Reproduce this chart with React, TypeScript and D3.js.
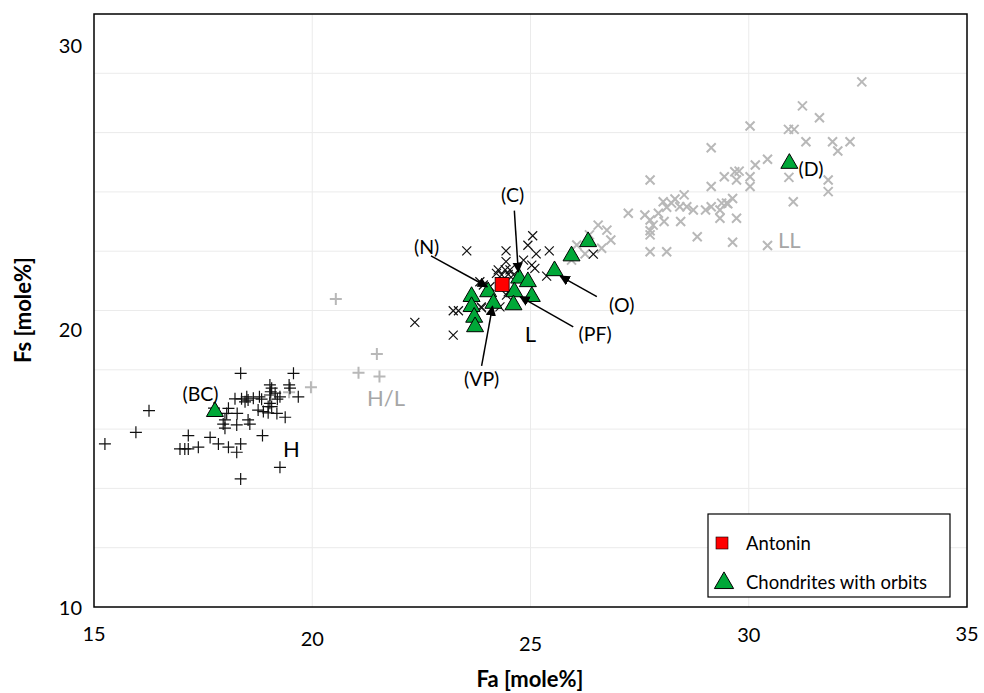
import * as d3 from 'd3';
import React from 'react';

// Fa / Fs [mole%]
const hGroup: [number, number][] = [
  [18.36, 17.88], [19.57, 17.88], [16.26, 16.62], [15.96, 15.89], [15.25, 15.5],
  [17.16, 15.78], [16.97, 15.33], [17.08, 15.33], [17.16, 15.33], [17.39, 15.39],
  [17.66, 15.72], [17.85, 15.5], [18.08, 15.39], [18.36, 15.5], [18.27, 15.22],
  [18.86, 15.78], [18.36, 14.32], [19.26, 14.71], [19.03, 17.49], [19.07, 17.38],
  [19.05, 17.26], [19.03, 17.15], [19.15, 17.21], [19.47, 17.49], [19.49, 17.38],
  [19.68, 17.09], [19.26, 17.09], [19.2, 17.01], [18.23, 17.02], [18.38, 17.02],
  [18.5, 17.09], [18.53, 16.98], [18.46, 16.92], [18.65, 17.04], [18.79, 17.09],
  [18.84, 17.01], [19.03, 16.87], [18.99, 16.76], [19.07, 16.76], [18.08, 16.7],
  [18.28, 16.53], [18.76, 16.64], [18.88, 16.59], [18.99, 16.55], [19.19, 16.53],
  [19.38, 16.4], [18.04, 16.53], [18.0, 16.31], [17.96, 16.17], [18.0, 16.03],
  [18.27, 16.14], [18.53, 16.31], [18.57, 16.17], [17.75, 16.71],
];

const hlGroup: [number, number][] = [
  [20.54, 20.39], [21.48, 18.53], [21.06, 17.9], [21.54, 17.77], [19.97, 17.41], [19.47, 17.24],
];

const lGroup: [number, number][] = [
  [22.35, 19.6], [23.23, 19.99], [23.35, 19.99], [23.23, 19.17], [23.88, 20.09],
  [23.54, 22.01], [24.44, 22.01], [25.05, 22.52], [24.94, 22.2], [25.13, 21.91],
  [25.43, 22.01], [24.44, 21.65], [24.84, 21.7], [25.03, 21.53], [25.1, 21.42],
  [25.37, 21.16], [26.44, 21.9], [23.84, 20.97], [23.92, 20.86], [23.87, 20.12],
  [24.3, 20.12], [24.45, 20.52], [24.26, 21.37], [24.42, 21.37], [24.53, 21.37],
  [24.34, 21.2], [24.49, 21.22], [24.22, 21.25], [24.61, 21.2], [24.07, 20.8],
  [24.49, 20.63],
];

const llGroup: [number, number][] = [
  [32.59, 27.71], [31.23, 26.9], [31.62, 26.5], [30.03, 26.22], [30.91, 26.11],
  [31.04, 26.11], [31.31, 25.69], [31.92, 25.69], [32.32, 25.69], [32.04, 25.38],
  [29.14, 25.49], [30.43, 25.1], [30.15, 24.91], [29.78, 24.7], [29.68, 24.68],
  [29.44, 24.51], [30.03, 24.51], [29.72, 24.4], [30.92, 24.49], [31.82, 24.4],
  [31.82, 24.01], [27.74, 24.4], [29.14, 24.18], [30.03, 24.18], [31.02, 23.67],
  [29.63, 23.78], [29.38, 23.62], [29.49, 23.62], [29.52, 23.6], [29.34, 23.39],
  [29.14, 23.5], [29.01, 23.39], [28.73, 23.39], [28.52, 23.9], [28.31, 23.76],
  [28.23, 23.62], [28.12, 23.48], [28.04, 23.67], [28.42, 23.5], [28.58, 23.5],
  [27.93, 23.28], [27.62, 23.22], [27.74, 23.05], [27.81, 22.88], [27.74, 22.69],
  [27.74, 22.55], [28.06, 23.0], [28.44, 23.0], [29.34, 23.11], [29.72, 23.11],
  [27.24, 23.28], [26.55, 22.88], [26.75, 22.71], [26.84, 22.38], [28.82, 22.49],
  [29.63, 22.3], [30.43, 22.19], [27.74, 21.98], [28.12, 21.98], [26.06, 22.21],
  [26.25, 21.91], [26.63, 22.1], [25.94, 21.7], [26.35, 22.55],
];

const orbits: [number, number][] = [
  [17.77, 16.59], [23.65, 20.47], [23.65, 20.13], [23.71, 19.77], [23.73, 19.45],
  [24.03, 20.63], [24.15, 20.24], [24.74, 21.09], [24.94, 20.97], [24.63, 20.63],
  [25.03, 20.47], [24.61, 20.19], [25.55, 21.34], [25.94, 21.84], [26.32, 22.32],
  [30.93, 24.96],
];

const antonin: [number, number] = [24.35, 20.88];

// label text, label position, arrow start, arrow end
const pointers = [
  { text: '(C)', at: [24.59, 23.9], from: [24.63, 23.37], to: [24.72, 21.3] },
  { text: '(N)', at: [22.62, 22.15], from: [22.72, 21.84], to: [24.01, 20.8] },
  { text: '(O)', at: [27.09, 20.19], from: [26.52, 20.47], to: [25.68, 21.16] },
  { text: '(PF)', at: [26.48, 19.23], from: [25.98, 19.45], to: [24.76, 20.47] },
  { text: '(VP)', at: [23.88, 17.71], from: [23.88, 18.13], to: [24.13, 20.14] },
];
const plainLabels = [
  { text: '(BC)', at: [17.44, 17.21], anchor: 'middle' },
  { text: '(D)', at: [31.14, 24.8], anchor: 'start' },
];
const groupLabels = [
  { text: 'H', at: [19.52, 15.33], gray: false },
  { text: 'L', at: [25.0, 19.23], gray: false },
  { text: 'H/L', at: [21.69, 17.08], gray: true },
  { text: 'LL', at: [30.93, 22.38], gray: true },
];

const xTicks = [15, 20, 25, 30, 35];
const yTicks = [10, 20, 30];

const W = 984;
const H = 693;
const m = { left: 94, right: 17, top: 14, bottom: 86 };
const font = 'Lato, "Open Sans", sans-serif';
const grayMark = '#b8b8b8';

export default function App() {
  const x = d3.scaleLinear().domain([15, 35]).range([m.left, W - m.right]);
  const y = d3.scaleLinear().domain([10, 30]).range([H - m.bottom, m.top]);
  const tri = d3.symbol().type(d3.symbolTriangle).size(125)();
  const triLegend = d3.symbol().type(d3.symbolTriangle).size(160)();
  const xNudge: Record<number, number> = { 15: 0, 20: 5, 25: 10, 30: 1, 35: 0 };
  const yNudge: Record<number, number> = { 10: 0, 20: 18, 30: 31 };

  const plus = 'M-6,0H6M0,-6V6';
  const cross = 'M-4.5,-4.5L4.5,4.5M4.5,-4.5L-4.5,4.5';

  return (
    <svg width={W} height={H} style={{ position: 'absolute', left: 0, top: 0, background: '#fff' }} fontFamily={font}>
      <defs>
        <marker id="ah" viewBox="0 0 10 10" refX="9" refY="5" markerWidth="7" markerHeight="7" orient="auto">
          <path d="M0,0L10,5L0,10z" fill="#000" />
        </marker>
      </defs>
      {/* grid */}
      {d3.range(12, 30, 2).map(v => (
        <line key={'gy' + v} x1={m.left} x2={W - m.right} y1={y(v)} y2={y(v)} stroke="#ebebeb" />
      ))}
      {[20, 25, 30].map(v => (
        <line key={'gx' + v} x1={x(v)} x2={x(v)} y1={m.top} y2={H - m.bottom} stroke="#ebebeb" />
      ))}

      {/* groups */}
      {hlGroup.map((d, i) => (
        <path key={'hl' + i} d={plus} transform={`translate(${x(d[0])},${y(d[1])})`} stroke={grayMark} strokeWidth={2} />
      ))}
      {llGroup.map((d, i) => (
        <path key={'ll' + i} d={cross} transform={`translate(${x(d[0])},${y(d[1])})`} stroke={grayMark} strokeWidth={2} />
      ))}
      {hGroup.map((d, i) => (
        <path key={'h' + i} d={plus} transform={`translate(${x(d[0])},${y(d[1])})`} stroke="#111" strokeWidth={1.2} />
      ))}
      {lGroup.map((d, i) => (
        <path key={'l' + i} d={cross} transform={`translate(${x(d[0])},${y(d[1])})`} stroke="#111" strokeWidth={1.2} />
      ))}
      {orbits.map((d, i) => (
        <path key={'o' + i} d={tri} transform={`translate(${x(d[0])},${y(d[1])})`} fill="#00a838" stroke="#000" strokeWidth={1} />
      ))}
      <rect x={x(antonin[0]) - 7} y={y(antonin[1]) - 7} width={14} height={14} fill="#ff0000" stroke="#000" strokeWidth={0.8} />

      {/* annotations */}
      {pointers.map(p => (
        <g key={p.text}>
          <line x1={x(p.from[0])} y1={y(p.from[1])} x2={x(p.to[0])} y2={y(p.to[1])} stroke="#000" strokeWidth={1.5} markerEnd="url(#ah)" />
          <text x={x(p.at[0])} y={y(p.at[1])} textAnchor="middle" dominantBaseline="central" fontSize={19.5}>{p.text}</text>
        </g>
      ))}
      {plainLabels.map(p => (
        <text key={p.text} x={x(p.at[0])} y={y(p.at[1])} textAnchor={p.anchor} dominantBaseline="central" fontSize={19.5}>{p.text}</text>
      ))}
      {groupLabels.map(p => (
        <text key={p.text} x={x(p.at[0])} y={y(p.at[1])} textAnchor="middle" dominantBaseline="central" fontSize={22} fill={p.gray ? '#a6a6a6' : '#000'}>{p.text}</text>
      ))}

      {/* frame */}
      <rect x={m.left} y={m.top} width={W - m.left - m.right} height={H - m.top - m.bottom} fill="none" stroke="#000" strokeWidth={1.5} />

      {/* ticks */}
      {xTicks.map(v => (
        <text key={'xt' + v} x={x(v)} y={H - m.bottom + 26 + xNudge[v]} textAnchor="middle" dominantBaseline="central" fontSize={20}>{v}</text>
      ))}
      {yTicks.map(v => (
        <text key={'yt' + v} x={m.left - 12} y={y(v) + yNudge[v]} textAnchor="end" dominantBaseline="central" fontSize={20}>{v}</text>
      ))}
      <text x={530} y={687} textAnchor="middle" fontSize={22} fontWeight="bold">Fa [mole%]</text>
      <text transform="translate(22,310) rotate(-90)" textAnchor="middle" dominantBaseline="central" fontSize={22} fontWeight="bold">Fs [mole%]</text>

      {/* legend */}
      <g>
        <rect x={708} y={514} width={242} height={83} fill="#fff" stroke="#000" strokeWidth={1.2} />
        <rect x={716} y={537} width={12} height={12} fill="#ff0000" stroke="#000" strokeWidth={0.6} />
        <text x={746} y={543} dominantBaseline="central" fontSize={18.5}>Antonin</text>
        <path d={triLegend} transform="translate(724,583)" fill="#00a838" stroke="#000" strokeWidth={1} />
        <text x={746} y={582} dominantBaseline="central" fontSize={18.5}>Chondrites with orbits</text>
      </g>
    </svg>
  );
}
